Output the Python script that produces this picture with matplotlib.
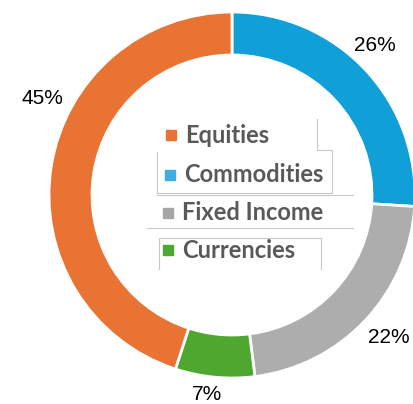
import matplotlib
matplotlib.use("Agg")
import matplotlib.pyplot as plt
import numpy as np

# asset allocation shares (%), clockwise from 12 o'clock
categories = ["Commodities", "Fixed Income", "Currencies", "Equities"]
values = [26, 22, 7, 45]
colors = ["#109fd6", "#adadad", "#4ea72e", "#e87332"]

# legend order as shown in the middle of the ring
legend_names = ["Equities", "Commodities", "Fixed Income", "Currencies"]
legend_colors = ["#e87332", "#3fade0", "#a6a6a6", "#4ea72e"]

W, H = 413, 404
cx, cy, R = 232, 195, 183  # pixel centre / radius of the ring

fig = plt.figure(figsize=(W / 100, H / 100), dpi=100)
ax = fig.add_axes([0, 0, 1, 1])

wedges, _ = ax.pie(values, colors=colors, startangle=90, counterclock=False,
                   radius=1.0, wedgeprops=dict(width=0.235, edgecolor="white", linewidth=2))
ax.set_aspect("auto")
ax.set_xlim(-cx / R, (W - cx) / R)
ax.set_ylim(-(H - cy) / R, cy / R)
ax.axis("off")

# percentage labels, placed roughly where Excel put them
lab_angles = [46.4, -42.3, -97, 153]
lab_r = [1.13, 1.16, 1.10, 1.165]
for v, a, r in zip(values, lab_angles, lab_r):
    t = np.deg2rad(a)
    ax.text(r * np.cos(t), r * np.sin(t), f"{v}%", ha="center", va="center",
            fontsize=15, family="Liberation Sans", color="black")

# legend in the hole, drawn in figure pixels (y from top)
def px(x, y):
    return x / W, 1 - y / H

rows_y = [135, 175, 213, 250]
mark_x = [166, 165, 163, 163]
text_x = [185, 184, 182, 182]
for name, c, y, mx, tx in zip(legend_names, legend_colors, rows_y, mark_x, text_x):
    fig.patches.append(plt.Rectangle(px(mx, y + 5), 10 / W, 10 / H, color=c,
                                     transform=fig.transFigure))
    fig.text(*px(tx, y), name, ha="left", va="center", fontsize=17,
             family="Lato", fontweight="bold", color="#595959")

# faint frame fragments around the legend entries
frame = [
    [(317, 119), (317, 150), (332, 150), (332, 193)],
    [(157, 152), (157, 193), (332, 193)],
    [(157, 195), (353, 195)],
    [(147, 228), (353, 228)],
    [(159, 269), (159, 238), (321, 238), (321, 269)],
]
for seg in frame:
    xs, ys = zip(*[px(x, y) for x, y in seg])
    fig.add_artist(plt.Line2D(xs, ys, color="#c8c8c8", linewidth=0.8,
                              transform=fig.transFigure))

fig.savefig("out.png", dpi=100)
